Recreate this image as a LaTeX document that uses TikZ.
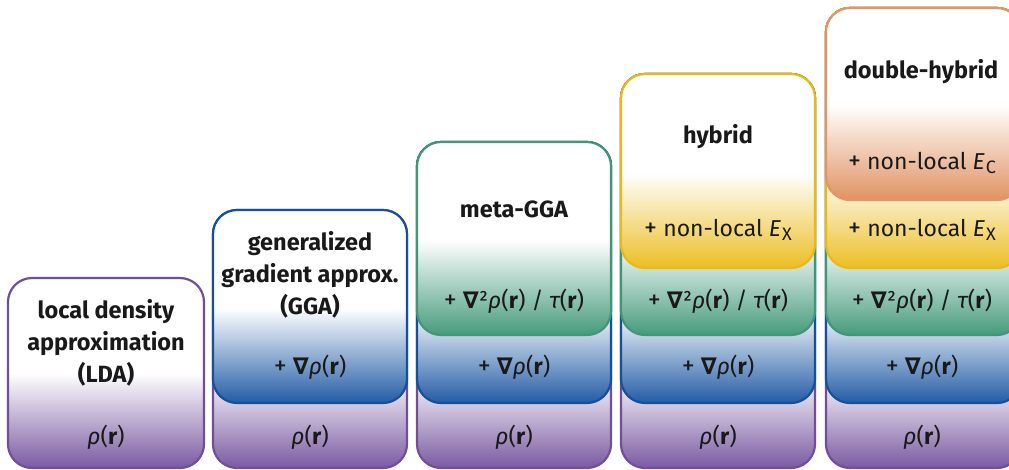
\documentclass[tikz,border=0pt]{standalone}
\usepackage{fontspec}
\setmainfont{Fira Sans}
\newfontfamily\symf{DejaVu Sans}
\definecolor{cP}{RGB}{112,78,152}
\definecolor{cPF}{RGB}{122,90,162}
\definecolor{cB}{RGB}{20,80,155}
\definecolor{cBF}{RGB}{35,92,165}
\definecolor{cG}{RGB}{65,150,120}
\definecolor{cGF}{RGB}{70,155,125}
\definecolor{cY}{RGB}{235,185,15}
\definecolor{cYF}{RGB}{236,190,35}
\definecolor{cO}{RGB}{225,150,100}
\definecolor{cOF}{RGB}{224,146,98}
\newcommand\lay[5]{%
  \begin{scope}
    \clip[rounded corners=24pt] (#1,#3) rectangle (#2,#4);
    \fill[white] (#1,#3) rectangle (#2,#4);
    \shade[top color=white,bottom color=#5F] (#1,#4-95) rectangle (#2,#4);
  \end{scope}
  \draw[#5, line width=2.2pt, rounded corners=24pt] (#1,#3) rectangle (#2,#4);}
\newcommand\rhor{{\itshape ρ}({\bfseries r})}
\newcommand\nab{{\symf\bfseries ∇}}
\newcommand\pl{{\fontsize{26}{26}\selectfont +}\ }
\newcommand\LA{\rhor}
\newcommand\LB{\pl\nab\rhor}
\newcommand\LC{\pl\nab²\rhor\ / {\itshape τ}({\bfseries r})}
\newcommand\LD{\pl non-local {\itshape E}\kern1pt\raisebox{-3.5pt}{\fontsize{18}{18}\selectfont X}}
\newcommand\LE{\pl non-local {\itshape E}\kern1pt\raisebox{-3.5pt}{\fontsize{18}{18}\selectfont C}}
\tikzset{
  ttl/.style={font=\fontsize{23.5}{32}\selectfont\bfseries, align=center, text=black!90, inner sep=0pt},
  lbl/.style={font=\fontsize{23}{26}\selectfont, text=black!90, inner sep=0pt}
}
\begin{document}
\begin{tikzpicture}[x=1pt,y=-1pt]
\useasboundingbox (0,0) rectangle (1009,470);
\clip (0,0) rectangle (1009,470);
% column 1
\lay{8}{204}{278}{468}{cP}
% column 2
\lay{213}{407}{210}{468}{cP}
\lay{213}{407}{210}{403}{cB}
% column 3
\lay{417}{611}{142}{468}{cP}
\lay{417}{611}{142}{403}{cB}
\lay{417}{611}{142}{335}{cG}
% column 4
\lay{621}{815}{74}{468}{cP}
\lay{621}{815}{74}{403}{cB}
\lay{621}{815}{74}{335}{cG}
\lay{621}{815}{74}{268}{cY}
% column 5
\lay{826}{1021}{8}{468}{cP}
\lay{826}{1021}{8}{403}{cB}
\lay{826}{1021}{8}{335}{cG}
\lay{826}{1021}{8}{268}{cY}
\lay{826}{1021}{8}{200}{cO}
% titles
\node[ttl] (t1) at (106,343) {local density\\approximation\\(LDA)};
\node[ttl] (t2) at (310,275) {generalized\\gradient approx.\\(GGA)};
\node[ttl] (t3) at (514,209) {meta-GGA};
\node[ttl] (t4) at (718,137) {hybrid};
\node[ttl] (t5) at (921,72) {double-hybrid};
% labels
\node[lbl] (a1) at (106,437) {\LA};
\node[lbl] (a2) at (310,437) {\LA};
\node[lbl] (a3) at (514,437) {\LA};
\node[lbl] (a4) at (718,437) {\LA};
\node[lbl] (a5) at (922,437) {\LA};
\node[lbl] (b2) at (310,367) {\LB};
\node[lbl] (b3) at (514,367) {\LB};
\node[lbl] (b4) at (718,367) {\LB};
\node[lbl] (b5) at (922,367) {\LB};
\node[lbl] (c3) at (514,301) {\LC};
\node[lbl] (c4) at (718,301) {\LC};
\node[lbl] (c5) at (922,301) {\LC};
\node[lbl] (d4) at (718,230) {\LD};
\node[lbl] (d5) at (922,230) {\LD};
\node[lbl] (e5) at (922,163) {\LE};
\end{tikzpicture}
\end{document}
